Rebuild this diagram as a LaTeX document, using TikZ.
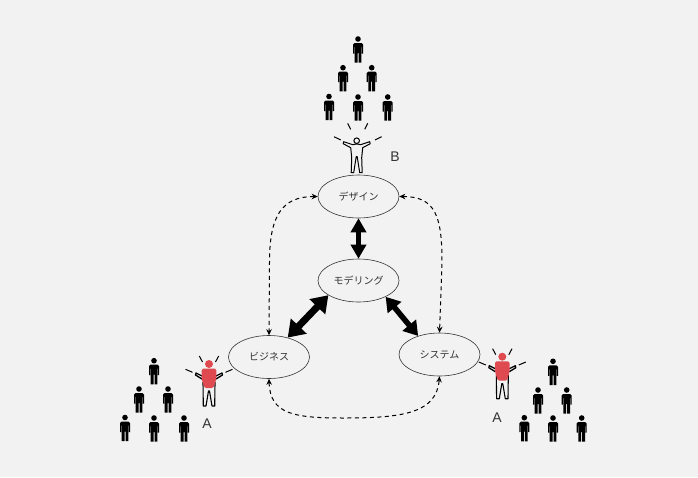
\documentclass[tikz,border=0pt]{standalone}
\usepackage{fontspec}
\setmainfont{Liberation Sans}
\newfontfamily\cjk{Noto Sans CJK JP}
\usetikzlibrary{arrows.meta,shapes.geometric}
\definecolor{paper}{HTML}{F2F2F2}
\definecolor{inkgrey}{HTML}{333333}
\definecolor{leaderred}{HTML}{DE4A50}
\tikzset{
  phase/.style={draw=inkgrey,line width=0.6pt,ellipse,inner sep=0pt,minimum width=81pt,minimum height=43pt,font=\cjk\fontsize{10}{12}\selectfont,text=inkgrey},
  feedback/.style={line width=1pt,dash pattern=on 4pt off 3.5pt,{Stealth[length=6pt,width=5.5pt]}-{Stealth[length=6pt,width=5.5pt]}},
  rolemark/.style={font=\fontsize{14}{16}\selectfont,text=inkgrey},
  ray/.style={line width=1pt,line cap=butt},
  person/.pic={
    \fill[black] (0,0) circle (2.8);
    \fill[black] (-3.5,4)--(3.5,4)--(5,5.5)--(5,14.5)--(3.8,14.5)--(3.8,8)--(3.3,8)--(3.3,23.7)--(0.5,23.7)--(0.5,14)--(-0.5,14)--(-0.5,23.7)--(-3.3,23.7)--(-3.3,8)--(-3.8,8)--(-3.8,14.5)--(-5,14.5)--(-5,5.5)--cycle;
  },
  openleader/.pic={
    \draw[line width=1pt] (0,0) circle (2.8);
    \draw[line width=1pt,line join=round] (-1.5,3.5)--(-4,4)--(-13,1)--(-13.5,3)--(-6,7)--(-5,17)--(-5.5,32)--(-3,32)--(-0.5,16)--(0.5,16)--(3,32)--(5.5,32)--(5,17)--(6,7)--(13.5,3)--(13,1)--(4,4)--(1.5,3.5)--cycle;
    \draw[ray] (-9,-17.4)--(-6,-11.4);
    \draw[ray] (11,-17.4)--(8,-11.4);
    \draw[ray] (-22.7,-4)--(-16,-0.7);
    \draw[ray] (25,-4)--(18.3,-0.7);
  },
  redleader/.pic={
    \draw[line width=1.1pt,line join=round] (-6,18)--(-5.7,42)--(-3,42)--(-0.5,27)--(0.5,27)--(3,42)--(5.7,42)--(6,18);
    \draw[line width=1.3pt,line join=round] (-7,12)--(-13,9)--(-13.5,11)--(-7,15);
    \draw[line width=1.3pt,line join=round] (7,12)--(13,9)--(13.5,11)--(7,15);
    \fill[leaderred] (0,0) circle (4);
    \fill[leaderred,rounded corners=1.5pt] (-7.3,4.7)--(-7.3,15)--(-4.5,24)--(4.5,24)--(7.3,15)--(7.3,4.7)--cycle;
    \draw[ray] (-9.7,-8)--(-6.5,-2);
    \draw[ray] (9.7,-8)--(6.5,-2);
    \draw[ray] (-23.5,5.3)--(-16.5,8.3);
    \draw[ray] (23.5,5.3)--(16.5,8.3);
  }
}
\begin{document}
\begin{tikzpicture}[x=1pt,y=-1pt,line join=round]
    \fill[paper] (0,0) rectangle (698,477);
    \useasboundingbox (0,0) rectangle (698,477);
    % crowds
    \foreach \x/\y in {358/39,343/67.7,371.7/67.7,329/96.5,358/97,387.7/97,
      154/360.7,139/389,168/389,125/417.5,154/418,184/418,
      553/361.3,538/390,566.7/390,524.3/417.7,553/418,581.7/418}
      \pic at (\x,\y) {person};
    \pic at (356.7,140.7) {openleader};
    \pic at (209,364) {redleader};
    \pic at (502.3,356.7) {redleader};
    \node[rolemark] (markB) at (395,157) {B};
    \node[rolemark] (markA) at (207,424) {A};
    \node[rolemark] (markC) at (497,418) {A};
    % phases
    \node[phase] (design) at (358.5,196.5) {デザイン};
    \node[phase] (model) at (358.5,280.5) {モデリング};
    \node[phase] (business) at (269,357) {ビジネス};
    \node[phase] (system) at (439.5,354.5) {システム};
    % strong links
    \draw[line width=4.5pt,{Triangle[length=14pt,width=15pt]}-{Triangle[length=14pt,width=15pt]}] (design.south)--(model.north);
    \draw[line width=7pt,{Triangle[length=16pt,width=21pt]}-{Triangle[length=16pt,width=21pt]}] (model.206)--(business.46);
    \draw[line width=5.5pt,{Triangle[length=14pt,width=17pt]}-{Triangle[length=14pt,width=17pt]}] (model.-31)--(system.139);
    % weak links
    \coordinate (leftbend) at (269.5,262);
    \coordinate (rightbend) at (442,262);
    \coordinate (lowbend) at (345,418);
    \draw[feedback] (design.west) .. controls +(-36,0) and +(0,-46) .. (leftbend)--(business.north);
    \draw[feedback] (design.east) .. controls +(36,0) and +(0,-46) .. (rightbend)--(system.north);
    \draw[feedback] (business.south) .. controls +(1,36) and +(-50,0) .. (lowbend) .. controls +(60,0) and +(-3,36) .. (system.south);
\end{tikzpicture}
\end{document}
